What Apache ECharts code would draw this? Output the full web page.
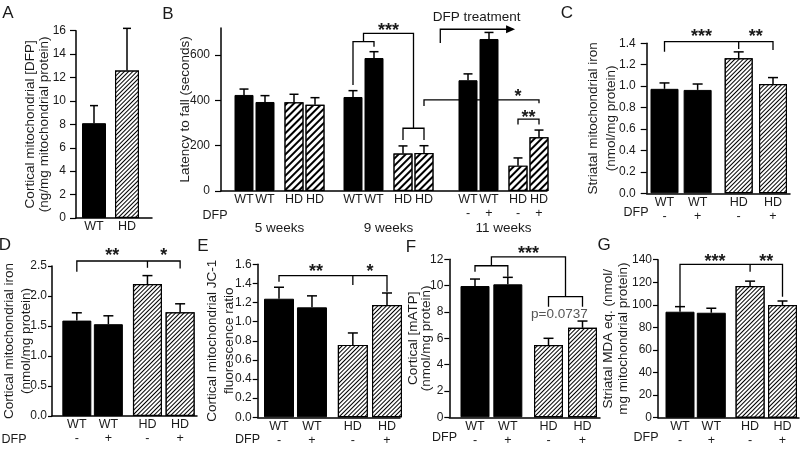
<!DOCTYPE html>
<html lang="en">
<head>
<meta charset="UTF-8">
<title>DFP and mitochondrial iron</title>
<script src="https://cdn.jsdelivr.net/npm/echarts@6.0.0/dist/echarts.min.js"></script>
<style>
  * { margin: 0; padding: 0 }
  html, body { width: 100%; height: 100%; background: #fff; }
  #main { width: 800px; height: 449px; }
</style>
</head>
<body>
<div id="main"></div>
<script>
var FONT = '"Liberation Sans", Arial, sans-serif';
var INK = '#1a1a1a';

// ---- data ----
var labelsA = ['WT', 'HD'];
var meanA = [8.1, 12.6];
var semA = [1.5, 3.6];

var labelsB = ['WT', 'WT', 'HD', 'HD', 'WT', 'WT', 'HD', 'HD', 'WT', 'WT', 'HD', 'HD'];
var dfpB = ['', '', '', '', '', '', '', '', '-', '+', '-', '+'];
var weeksB = ['5 weeks', '9 weeks', '11 weeks'];
var meanB = [424, 393, 392, 381, 415, 587, 165, 168, 489, 671, 112, 237];
var semB = [26, 28, 35, 31, 28, 28, 34, 32, 28, 29, 34, 32];
var ticksB = [0, 200, 400, 600];

var groups = ['WT', 'WT', 'HD', 'HD'];
var dfp = ['-', '+', '-', '+'];

var meanC = [0.975, 0.965, 1.26, 1.02];
var semC = [0.055, 0.055, 0.06, 0.06];
var meanD = [1.59, 1.53, 2.2, 1.73];
var semD = [0.13, 0.14, 0.14, 0.14];
var meanE = [1.24, 1.15, 0.757, 1.175];
var semE = [0.12, 0.12, 0.125, 0.125];
var meanF = [9.97, 10.1, 5.49, 6.8];
var semF = [0.53, 0.53, 0.51, 0.51];
var meanG = [93.9, 93, 116.7, 99.9];
var semG = [4.5, 4, 4.3, 3.5];

// significance brackets: x in bar index (fractions = in between), y in data units
var sigB = [
  { path: [[4, 468], [4, 659], [5, 659], [5, 637]] },
  { path: [[4.5, 659], [4.5, 696], [6.5, 696], [6.5, 277]] },
  { path: [[6, 225], [6, 277], [7, 277], [7, 225]] },
  { text: '***', at: [4.5, 6.5], y: 724 },
  { path: [[7, 375], [7, 402], [11, 402], [11, 387]] },
  { text: '*', at: [10, 10], y: 433 },
  { path: [[10, 294], [10, 317], [11, 317], [11, 294]] },
  { text: '**', at: [10, 11], y: 340 },
  { path: [[7.37, 653], [7.37, 714], [9.83, 714]], arrow: true },
  { label: 'DFP treatment', at: [7.37, 9.83], y: 768 }
];
var sigC = [
  { path: [[0, 1.322], [0, 1.415], [3, 1.415], [3, 1.338]] },
  { path: [[2, 1.415], [2, 1.347]] },
  { text: '***', at: [0, 2], y: 1.497 },
  { text: '**', at: [2, 3], y: 1.497 }
];
var sigD = [
  { path: [[0, 2.405], [0, 2.583], [3, 2.583], [3, 2.46]] },
  { path: [[2, 2.583], [2, 2.47]] },
  { text: '**', at: [0, 2], y: 2.73 },
  { text: '*', at: [2, 3], y: 2.73 }
];
var sigE = [
  { path: [[0, 1.418], [0, 1.481], [3, 1.481], [3, 1.314]] },
  { path: [[2, 1.481], [2, 1.384]] },
  { text: '**', at: [0, 2], y: 1.559 },
  { text: '*', at: [2, 3], y: 1.559 }
];
var sigF = [
  { path: [[0, 11.06], [0, 11.51], [1, 11.51], [1, 10.68]] },
  { path: [[0.5, 11.51], [0.5, 12.19], [2.5, 12.19], [2.5, 9.16]] },
  { path: [[2, 8.4], [2, 9.16], [3, 9.16], [3, 8.4]] },
  { text: '***', at: [0.5, 2.5], y: 12.7 },
  { label: 'p=0.0737', at: [2.32, 2.32], y: 7.82, color: '#555' }
];
var sigG = [
  { path: [[0, 98.4], [0, 135.9], [3, 135.9], [3, 107.2]] },
  { path: [[2, 135.9], [2, 129.4]] },
  { text: '***', at: [0, 2], y: 141.2 },
  { text: '**', at: [2, 3], y: 141.2 }
];

// ---- layout: bar slots on the x value axes, pixel frames of each panel ----
var slotA = [1, 2];
var slot4 = [1, 2.13, 3.53, 4.7];
var slotB = [0, 1.05, 2.5, 3.55, 5.45, 6.5, 7.95, 9.0, 11.2, 12.25, 13.7, 14.75];
var weekSlotB = [1.775, 7.225, 12.975];

var solid = { color: '#000', borderColor: '#000', borderWidth: 1 };
function hatch(dash) {
  return {
    color: '#fff', borderColor: '#000', borderWidth: 1.2,
    decal: { symbol: 'rect', symbolSize: 1, color: '#000', backgroundColor: '#fff',
      dashArrayX: [1, 0], dashArrayY: dash, rotation: -Math.PI / 4 }
  };
}
function fixed1(v) { return v.toFixed(1); }
function nearest(arr, v) {
  var best = 0;
  for (var i = 1; i < arr.length; i++) if (Math.abs(arr[i] - v) < Math.abs(arr[best] - v)) best = i;
  return best;
}

function errorBar(cap) {
  return function (params, api) {
    var b = api.coord([api.value(0), api.value(1)]);
    var t = api.coord([api.value(0), api.value(2)]);
    var st = { stroke: '#000', lineWidth: 1.5 };
    return { type: 'group', silent: true, children: [
      { type: 'line', shape: { x1: b[0], y1: b[1], x2: t[0], y2: t[1] }, style: st },
      { type: 'line', shape: { x1: t[0] - cap / 2, y1: t[1], x2: t[0] + cap / 2, y2: t[1] }, style: st }
    ] };
  };
}

function annotate(slots, notes) {
  function xAt(i) {
    var a = Math.floor(i), b = Math.ceil(i);
    return slots[a] + (i - a) * (slots[b] - slots[a]);
  }
  return function (params, api) {
    var kids = [];
    notes.forEach(function (n) {
      if (n.path) {
        var pts = n.path.map(function (p) { return api.coord([xAt(p[0]), p[1]]); });
        kids.push({ type: 'polyline', shape: { points: pts }, style: { stroke: '#000', lineWidth: 1.3, fill: 'none' } });
        if (n.arrow) {
          var e = pts[pts.length - 1];
          kids.push({ type: 'polygon', shape: { points: [[e[0] + 2, e[1]], [e[0] - 7, e[1] - 4], [e[0] - 7, e[1] + 4]] },
            style: { fill: '#000' } });
        }
      } else {
        var x = (xAt(n.at[0]) + xAt(n.at[1])) / 2;
        var p = api.coord([x, n.y]);
        var isStar = !!n.text;
        var fs = isStar ? 18 : 13.5;
        kids.push({ type: 'text', x: p[0], y: p[1] + (isStar ? fs * 0.22 : 0), style: {
          text: n.text || n.label, fill: n.color || INK,
          font: (isStar ? 'bold ' : '') + fs + 'px ' + FONT,
          align: 'center', verticalAlign: 'middle', textAlign: 'center', textVerticalAlign: 'middle' } });
      }
    });
    return { type: 'group', silent: true, children: kids };
  };
}

var option = { animation: false, backgroundColor: '#fff', grid: [], xAxis: [], yAxis: [], series: [], graphic: [] };

function addPanel(p) {
  var g = option.grid.length;
  option.grid.push({ left: p.x0, top: p.yTop, width: p.x1 - p.x0, height: p.yZero - p.yTop });
  var s0 = p.slots[0], sN = p.slots[p.slots.length - 1];
  var k = (p.cN - p.c1) / (sN - s0);
  var xi = option.xAxis.length, yi = option.yAxis.length;
  option.xAxis.push({
    type: 'value', gridIndex: g, position: 'bottom',
    min: s0 - (p.c1 - p.x0) / k, max: sN + (p.x1 - p.cN) / k,
    axisLine: { onZero: false, lineStyle: { color: '#000', width: 1.5 } },
    axisTick: { show: false }, splitLine: { show: false },
    axisLabel: {
      customValues: p.slots, margin: 2, color: INK, fontFamily: FONT, fontSize: 12.5, lineHeight: 14,
      formatter: function (v) {
        var i = nearest(p.slots, v);
        return p.labels[i] + (p.dfp && p.dfp[i] ? '\n' + p.dfp[i] : '');
      }
    }
  });
  option.yAxis.push({
    type: 'value', gridIndex: g, min: 0, max: p.max, interval: p.interval,
    axisLine: { show: true, onZero: false, lineStyle: { color: '#000', width: 1.5 } },
    axisTick: { show: true, length: p.tick, customValues: p.ticks, lineStyle: { color: '#000', width: 1.2 } },
    axisLabel: { margin: p.lm, color: INK, fontFamily: FONT, fontSize: 12, customValues: p.ticks, formatter: p.fmt },
    splitLine: { show: false },
    name: p.name, nameLocation: 'middle', nameGap: p.nameGap, nameMoveOverlap: false,
    nameTextStyle: { fontFamily: FONT, fontSize: 13.5, lineHeight: p.nameLH, color: INK }
  });
  option.series.push({
    type: 'bar', xAxisIndex: xi, yAxisIndex: yi, barWidth: p.barW, z: 2, silent: true,
    data: p.mean.map(function (m, i) {
      return { value: [p.slots[i], m], itemStyle: p.labels[i] === 'HD' ? hatch(p.dash) : solid };
    })
  });
  option.series.push({
    type: 'custom', xAxisIndex: xi, yAxisIndex: yi, z: 3,
    data: p.mean.map(function (m, i) { return [p.slots[i], m, m + p.sem[i]]; }),
    renderItem: errorBar(p.cap)
  });
  if (p.sig) {
    option.series.push({
      type: 'custom', xAxisIndex: xi, yAxisIndex: yi, z: 4,
      data: [[p.slots[0], 0]], renderItem: annotate(p.slots, p.sig)
    });
  }
  return g;
}

addPanel({ x0: 76, c1: 94, cN: 127, x1: 152, yTop: 30.7, yZero: 218, max: 16, interval: 2, tick: 6, lm: 10,
  slots: slotA, labels: labelsA, mean: meanA, sem: semA, barW: 24, cap: 8, dash: [1, 2],
  name: 'Cortical mitochondrial [DFP]\n(ng/mg mitochondrial protein)', nameGap: 25, nameLH: 14 });

var gB = addPanel({ x0: 221, c1: 244, cN: 539, x1: 547, yTop: 27.9, yZero: 191, max: 720, interval: 200, tick: 6, lm: 11,
  ticks: ticksB, slots: slotB, labels: labelsB, dfp: dfpB, mean: meanB, sem: semB, barW: 19, cap: 9, dash: [2, 3],
  sig: sigB, name: 'Latency to fall (seconds)', nameGap: 29, nameLH: 14 });
option.xAxis.push({
  type: 'value', gridIndex: gB, position: 'bottom', offset: 0,
  min: option.xAxis[gB].min, max: option.xAxis[gB].max,
  axisLine: { show: false, onZero: false }, axisTick: { show: false }, splitLine: { show: false },
  axisLabel: { customValues: weekSlotB, margin: 30, color: INK, fontFamily: FONT, fontSize: 13.5,
    formatter: function (v) { return weeksB[nearest(weekSlotB, v)]; } }
});

addPanel({ x0: 646.7, c1: 664.5, cN: 773, x1: 790, yTop: 43.3, yZero: 193.3, max: 1.4, interval: 0.2, fmt: fixed1, tick: 6, lm: 11,
  slots: slot4, labels: groups, dfp: dfp, mean: meanC, sem: semC, barW: 28, cap: 10, dash: [1, 2],
  sig: sigC, name: 'Striatal mitochondrial iron\n(nmol/mg protein)', nameGap: 26, nameLH: 18 });

addPanel({ x0: 51, c1: 76, cN: 180, x1: 197, yTop: 266, yZero: 416, max: 2.5, interval: 0.5, fmt: fixed1, tick: 4, lm: 5,
  slots: slot4, labels: groups, dfp: dfp, mean: meanD, sem: semD, barW: 29, cap: 10, dash: [1, 2],
  sig: sigD, name: 'Cortical mitochondrial iron\n(nmol/mg protein)', nameGap: 17, nameLH: 17 });

addPanel({ x0: 257.7, c1: 279, cN: 387, x1: 400, yTop: 264.3, yZero: 417.3, max: 1.6, interval: 0.2, fmt: fixed1, tick: 5, lm: 6,
  slots: slot4, labels: groups, dfp: dfp, mean: meanE, sem: semE, barW: 30, cap: 10, dash: [1, 2],
  sig: sigE, name: 'Cortical mitochondrial JC-1\nfluorescence ratio', nameGap: 19.5, nameLH: 17 });

addPanel({ x0: 449.3, c1: 475, cN: 582.5, x1: 600, yTop: 259.3, yZero: 417.3, max: 12, interval: 2, tick: 5, lm: 6,
  slots: slot4, labels: groups, dfp: dfp, mean: meanF, sem: semF, barW: 29, cap: 10, dash: [1, 2],
  sig: sigF, name: 'Cortical [mATP]\n(nmol/mg protein)', nameGap: 17, nameLH: 13 });

addPanel({ x0: 658, c1: 680, cN: 782.5, x1: 799, yTop: 259.7, yZero: 417.7, max: 140, interval: 20, tick: 5, lm: 6,
  slots: slot4, labels: groups, dfp: dfp, mean: meanG, sem: semG, barW: 29, cap: 10, dash: [1, 2],
  sig: sigG, name: 'Striatal MDA eq. (nmol/\nmg mitochondrial protein)', nameGap: 27, nameLH: 15 });

// panel letters and the "DFP" row captions
var letters = [['A', 8, 13], ['B', 168, 14], ['C', 567, 13], ['D', 5, 245], ['E', 203, 246], ['F', 411, 247], ['G', 604, 245]];
var dfpCaptions = [[215, 216], [636, 213], [14, 440], [247.5, 440], [444.5, 438], [646, 438]];
letters.forEach(function (l) {
  option.graphic.push({ type: 'text', x: l[1], y: l[2], silent: true,
    style: { text: l[0], font: '17px ' + FONT, fill: INK, align: 'center', verticalAlign: 'middle' } });
});
dfpCaptions.forEach(function (d) {
  option.graphic.push({ type: 'text', x: d[0], y: d[1], silent: true,
    style: { text: 'DFP', font: '12.5px ' + FONT, fill: INK, align: 'center', verticalAlign: 'middle' } });
});

var chart = echarts.init(document.getElementById('main'), null, { renderer: 'canvas' });
chart.setOption(option);
</script>
</body>
</html>
